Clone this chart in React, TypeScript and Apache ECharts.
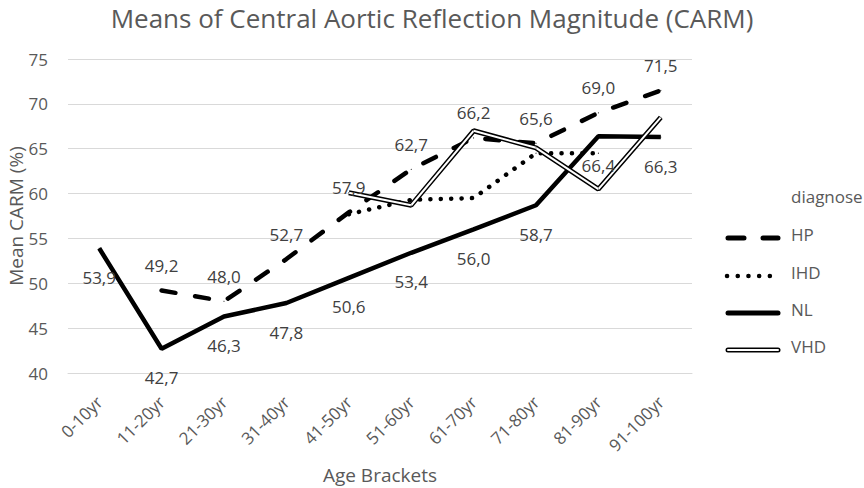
import React, { useEffect, useRef } from "react";
import * as echarts from "echarts";

const categories = ["0-10yr", "11-20yr", "21-30yr", "31-40yr", "41-50yr", "51-60yr", "61-70yr", "71-80yr", "81-90yr", "91-100yr"];
const hpValues = [null, 49.2, 48.0, 52.7, 57.9, 62.7, 66.2, 65.6, 69.0, 71.5];
const ihdValues = [null, null, null, null, 57.7, 59.3, 59.5, 64.5, 64.5, null];
const nlValues = [53.9, 42.7, 46.3, 47.8, 50.6, 53.4, 56.0, 58.7, 66.4, 66.3];
const vhdValues = [null, null, null, null, 60.1, 58.7, 67.0, 65.1, 60.5, 68.5];
const legendNames = ["HP", "IHD", "NL", "VHD"];
const yAxisTitle = "Mean CARM (%)";

const FONT = "'Open Sans', 'DejaVu Sans', sans-serif";
const fmt = (p: any) => (typeof p.value === "number" ? p.value.toFixed(1).replace(".", ",") : "");

export default function App() {
  const ref = useRef<HTMLDivElement>(null);
  useEffect(() => {
    if (!ref.current) return;
    const chart = echarts.init(ref.current, undefined, { renderer: "svg" });
    const lx1 = 726, lx2 = 780, tx = 791;
    const ly = [238, 276, 313, 350];
    const legendGraphics: any[] = [
      {
        type: "text",
        x: 16,
        y: 216,
        rotation: Math.PI / 2,
        style: { text: yAxisTitle, fill: "#595959", font: `19px ${FONT}`, align: "center", verticalAlign: "middle" },
      },
      { type: "text", left: tx, top: 188, style: { text: "diagnose", fill: "#595959", font: `17px ${FONT}` } },
      { type: "line", shape: { x1: lx1 + 2, y1: ly[0], x2: lx2 - 2, y2: ly[0] }, style: { stroke: "#000", lineWidth: 5, lineDash: [16, 19], lineCap: "round" } },
      { type: "line", shape: { x1: lx1 + 1, y1: ly[1], x2: lx2, y2: ly[1] }, style: { stroke: "#000", lineWidth: 4.5, lineDash: [0.1, 10.6], lineCap: "round" } },
      { type: "line", shape: { x1: lx1 + 2, y1: ly[2], x2: lx2 - 2, y2: ly[2] }, style: { stroke: "#000", lineWidth: 5, lineCap: "round" } },
      { type: "line", shape: { x1: lx1 + 2, y1: ly[3], x2: lx2 - 2, y2: ly[3] }, style: { stroke: "#000", lineWidth: 5, lineCap: "round" } },
      { type: "line", shape: { x1: lx1 + 2, y1: ly[3], x2: lx2 - 2, y2: ly[3] }, style: { stroke: "#fff", lineWidth: 2, lineCap: "round" } },
    ];
    legendNames.forEach((n, i) => {
      legendGraphics.push({ type: "text", left: tx, top: ly[i] - 12, style: { text: n, fill: "#595959", font: `17px ${FONT}` } });
    });

    const base = {
      type: "line",
      connectNulls: false,
      symbol: "circle",
      symbolSize: 1,
      itemStyle: { color: "#000" },
      emphasis: { disabled: true },
    };

    chart.setOption({
      animation: false,
      backgroundColor: "#fff",
      textStyle: { fontFamily: FONT },
      title: {
        text: "Means of Central Aortic Reflection Magnitude (CARM)",
        left: "center",
        top: 5,
        padding: [0, 5, 5, 5],
        textStyle: { fontFamily: FONT, fontSize: 26, fontWeight: "normal", color: "#595959" },
      },
      grid: { left: 68, right: 172, top: 59, bottom: 115, containLabel: false, outerBoundsMode: "none" },
      xAxis: {
        type: "category",
        data: categories,
        boundaryGap: true,
        name: "Age Brackets",
        nameLocation: "middle",
        nameGap: 92,
        nameTextStyle: { fontFamily: FONT, fontSize: 19, color: "#595959" },
        axisLine: { show: true, lineStyle: { color: "#d9d9d9", width: 1 } },
        axisTick: { show: false },
        axisLabel: { rotate: 45, margin: 26, fontFamily: FONT, fontSize: 17, color: "#595959" },
      },
      yAxis: {
        type: "value",
        min: 40,
        max: 75,
        interval: 5,
        axisLine: { show: false },
        axisTick: { show: false },
        axisLabel: { margin: 20, fontFamily: FONT, fontSize: 17, color: "#595959" },
        splitLine: { lineStyle: { color: "#d9d9d9", width: 1 } },
      },
      series: [
        {
          ...base,
          name: "HP",
          data: hpValues,
          lineStyle: { color: "#000", width: 4.5, type: [14, 20], cap: "round" },
          label: { show: true, position: "top", distance: 16, formatter: fmt, fontFamily: FONT, fontSize: 17, color: "#404040" },
        },
        {
          ...base,
          name: "IHD",
          data: ihdValues,
          lineStyle: { color: "#000", width: 4.5, type: [0.1, 10.3], cap: "round" },
          label: { show: false },
        },
        {
          ...base,
          name: "NL",
          data: nlValues,
          lineStyle: { color: "#000", width: 4.5 },
          label: { show: true, position: "bottom", distance: 20, formatter: fmt, fontFamily: FONT, fontSize: 17, color: "#404040" },
        },
        {
          ...base,
          name: "VHD",
          data: vhdValues,
          lineStyle: { color: "#000", width: 5 },
          label: { show: false },
        },
        {
          ...base,
          name: "VHD inner",
          data: vhdValues,
          symbolSize: 0.5,
          itemStyle: { color: "#fff" },
          lineStyle: { color: "#fff", width: 2 },
          label: { show: false },
          silent: true,
        },
      ],
      graphic: legendGraphics,
    });
    return () => chart.dispose();
  }, []);
  return <div ref={ref} style={{ position: "fixed", left: 0, top: 0, width: 864, height: 488 }} />;
}
